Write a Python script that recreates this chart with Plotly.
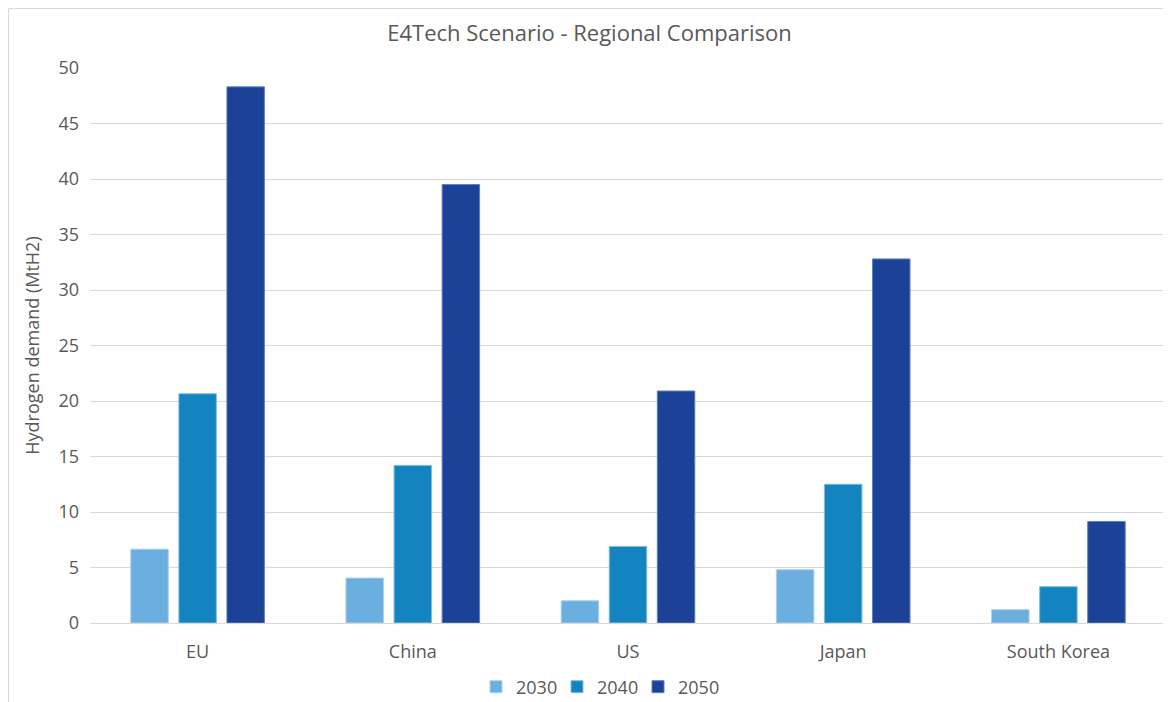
import plotly.graph_objects as go

regions = ["EU", "China", "US", "Japan", "South Korea"]
years = ["2030", "2040", "2050"]
v2030 = [6.65, 4.05, 2.0, 4.8, 1.2]
v2040 = [20.65, 14.2, 6.9, 12.5, 3.27]
v2050 = [48.3, 39.5, 20.9, 32.8, 9.15]
colors = ["#6AAFE0", "#1384BF", "#1B4297"]
edges = ["#A9D0EE", "#7FBDDE", "#5F7FC4"]

# page body has an 8px margin; figure coordinates = page coordinates - 8
OFF = 8
W, H = 1171 - OFF, 702 - OFF
ML = 90 - OFF
MR = W - (1166 - OFF)
MT = 68 - OFF
MB = H - (623 - OFF)

fig = go.Figure()
for name, vals, c, e in zip(years, [v2030, v2040, v2050], colors, edges):
    fig.add_trace(go.Bar(x=regions, y=vals, name=name,
                         marker=dict(color=c, line=dict(color=e, width=1))))

pw = W - ML - MR
ph = H - MT - MB
def px(x):
    return (x - OFF - ML) / pw
def py(y):
    return (H - MB - (y - OFF)) / ph

fig.update_layout(
    width=W, height=H,
    margin=dict(l=ML, r=MR, t=MT, b=MB, autoexpand=False),
    paper_bgcolor="white", plot_bgcolor="white",
    font=dict(family="Open Sans, Liberation Sans, sans-serif", color="#595959", size=17),
    title=dict(text="E4Tech Scenario - Regional Comparison", x=0.5, xanchor="center",
               y=1 - (33 - OFF) / H, yanchor="middle", font=dict(size=22, color="#595959")),
    barmode="group", bargap=0.33, bargroupgap=0.22,
    yaxis=dict(range=[0, 50], dtick=5, showgrid=True, gridcolor="#D9D9D9", gridwidth=1,
               zeroline=False, showline=False, ticks="", ticklabelstandoff=10,
               tickfont=dict(size=18, color="#595959"),
               title=dict(text="Hydrogen demand (MtH2)", standoff=14,
                          font=dict(size=18, color="#595959"))),
    xaxis=dict(showline=True, linecolor="#D9D9D9", linewidth=1, ticks="",
               tickfont=dict(size=18, color="#595959"), ticklabelstandoff=12),
    legend=dict(orientation="h", x=px(476), xanchor="left", y=py(687), yanchor="middle",
                font=dict(size=18, color="#595959"), itemwidth=30, traceorder="normal",
                tracegroupgap=0, entrywidth=36, entrywidthmode="pixels"),
    showlegend=True,
)

fig.add_shape(type="rect", xref="paper", yref="paper",
              x0=px(OFF + 0.5), x1=px(1171 + 5), y0=py(702 + 5), y1=py(OFF + 0.5),
              line=dict(color="#D9D9D9", width=1), fillcolor="rgba(0,0,0,0)", layer="below")

fig.write_html("out.html")
